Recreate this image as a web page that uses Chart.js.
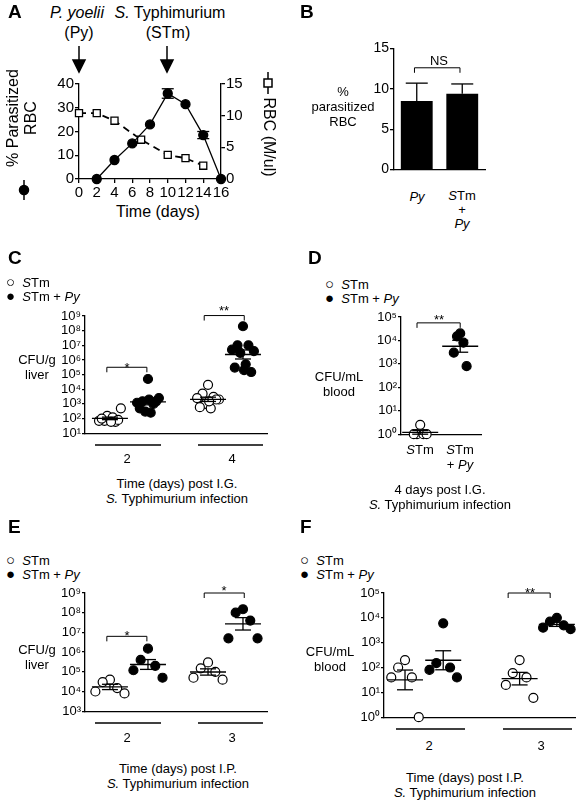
<!DOCTYPE html>
<html><head><meta charset="utf-8">
<script src="https://cdn.jsdelivr.net/npm/chart.js@4"></script>
<style>
body{margin:0;width:580px;height:800px;position:relative;background:#fff;font-family:"Liberation Sans",Arial,sans-serif;color:#000;overflow:hidden}
canvas{position:absolute}
.t{position:absolute;white-space:nowrap;font-size:13px;line-height:15px}
.c{transform:translateX(-50%);text-align:center}
.L{font-size:19px;font-weight:bold}
.big{font-size:16px;line-height:18px}
svg{position:absolute;left:0;top:0}
</style></head><body>
<script>
// ---------- DATA ----------
const aDays = [2,4,6,8,10,12,14,16];
const aParasit = [0,8,15,23,36,31.5,18.5,0];
const aParasitErr = [0,0,0,0,2,0,1.5,0];
const aRbcDays = [0,2,4,7,10,12,14];
const aRbc = [10.4,10.4,9.2,6.2,3.8,3.3,2.1];
const bCats = ['Py','STm + Py'];
const bVals = [8.5,9.4];
const bErr = [2.2,1.2];
const cStm2 = [100,70,60,70,500,150,120,100,80,60];
const cPy2 = [50000,1500,1000,1200,2500,300,250,500,1500,2000];
const cStm4 = [20000,5000,3000,2500,2000,1000,500,600,2000,1500];
const cPy4 = [2e8,1e7,1e7,5e6,4e6,3e6,5e5,3e5,1.5e5,2e5];
const dStm = [2.5,1,1,1,1];
const dPy = [2e4,1.5e4,8000,3000,800];
const eStm2 = [40000,30000,15000,10000,8000];
const ePy2 = [1.5e6,4e5,2e5,1.2e5,5e4];
const eStm3 = [3e5,1.5e5,1e5,5e4,4e4];
const ePy3 = [1.5e8,1e8,4e7,5e6,5e6];
const fStm2 = [200,100,40,40,1];
const fPy2 = [6000,150,100,80,40];
const fStm3 = [200,60,40,20,6];
const fPy3 = [1e4,7000,5000,4000,3500];

const FONT = {family:'"Liberation Sans",Arial,sans-serif', size:13};
Chart.defaults.font = FONT; Chart.defaults.color = '#000';
const sup = n => '10' + String(n).split('').map(d=>'⁰¹²³⁴⁵⁶⁷⁸⁹'[+d]).join('');

function mkCanvas(l,t,w,h){const c=document.createElement('canvas');c.style.left=l+'px';c.style.top=t+'px';c.style.width=w+'px';c.style.height=h+'px';c.width=w;c.height=h;document.body.appendChild(c);return c;}
function txt(x,y,html,cls){const d=document.createElement('div');d.className='t '+(cls||'');d.style.left=x+'px';d.style.top=y+'px';d.innerHTML=html;document.body.appendChild(d);return d;}

const extras = {id:'extras', afterDatasetsDraw(ch, a, o){
  const ctx=ch.ctx; ctx.save(); ctx.strokeStyle='#000'; ctx.lineWidth=1.3;
  const ln=(x1,y1,x2,y2)=>{ctx.beginPath();ctx.moveTo(x1,y1);ctx.lineTo(x2,y2);ctx.stroke();};
  (o.err||[]).forEach(e=>{const ys=ch.scales[e.axis||'y'],xs=ch.scales.x;const x=xs.getPixelForValue(e.x);
    const lo=ys.getPixelForValue(e.lo),hi=ys.getPixelForValue(e.hi);ln(x,lo,x,hi);ln(x-e.cap,hi,x+e.cap,hi);if(e.both)ln(x-e.cap,lo,x+e.cap,lo);
    if(e.mid!==undefined){const m=ys.getPixelForValue(e.mid);ln(x-e.mw,m,x+e.mw,m);}});
  (o.br||[]).forEach(b=>{const ys=ch.scales.y,xs=ch.scales.x;const x1=xs.getPixelForValue(b.x1),x2=xs.getPixelForValue(b.x2),y=ys.getPixelForValue(b.y);
    ctx.lineWidth=1;ctx.beginPath();ctx.moveTo(x1,y+5);ctx.lineTo(x1,y);ctx.lineTo(x2,y);ctx.lineTo(x2,y+5);ctx.stroke();});
  ctx.restore();}};
Chart.register(extras);

// ---------- Panel A ----------
(function(){
  const l=79,t=80,r=221,b=179, wl=26, wr=26, hx=22, pt=6;
  const c=mkCanvas(l-wl,t-pt,(r-l)+wl+wr,(b-t)+pt+hx);
  const tk={drawOnChartArea:false,tickLength:4,color:'#000',lineWidth:1.3};
  new Chart(c,{type:'scatter',data:{datasets:[
    {data:aDays.map((d,i)=>({x:d,y:aParasit[i]})),showLine:true,borderColor:'#000',backgroundColor:'#000',borderWidth:1.3,pointRadius:4.5,clip:false,yAxisID:'y'},
    {data:aRbcDays.map((d,i)=>({x:d,y:aRbc[i]})),showLine:true,borderDash:[7,5],borderColor:'#000',borderWidth:1.8,backgroundColor:'#fff',pointStyle:'rect',pointRadius:5,pointBorderWidth:1.3,clip:false,yAxisID:'y2'}]},
  options:{animation:false,responsive:false,layout:{padding:{top:pt,left:0,right:0,bottom:0}},plugins:{legend:{display:false},tooltip:{enabled:false},
    extras:{err:aDays.map((d,i)=>({x:d,lo:aParasit[i]-aParasitErr[i],hi:aParasit[i]+aParasitErr[i],cap:6,both:true})).filter((e,i)=>aParasitErr[i]>0)}},
    scales:{x:{type:'linear',min:0,max:16,ticks:{stepSize:2,autoSkip:false,maxRotation:0,padding:1,font:{size:15}},grid:tk,border:{color:'#000',width:1.3},afterFit:s=>{s.height=hx}},
      y:{position:'left',min:0,max:40,ticks:{stepSize:10,padding:1,font:{size:15}},grid:tk,border:{color:'#000',width:1.3},afterFit:s=>{s.width=wl}},
      y2:{position:'right',min:0,max:15,ticks:{stepSize:5,padding:1,font:{size:15}},grid:tk,border:{color:'#000',width:1.3},afterFit:s=>{s.width=wr}}}}});
})();
txt(77,4,'<i>P. yoelii</i>','c big');txt(79,24,'(Py)','c big');
txt(170,4,'<i>S.</i> Typhimurium','c big');txt(168,24,'(STm)','c big');
txt(158,203,'Time (days)','c big');
txt(22,118,'<div style="transform:rotate(-90deg);text-align:center">% Parasitized<br>RBC</div>','c big').style.transform='translate(-50%,-50%)';
txt(269,137,'<div style="transform:rotate(90deg)">RBC (M/ul)</div>','c big').style.transform='translate(-50%,-50%)';

// ---------- Panel B ----------
(function(){
  const l=394,t=43,r=485,b=178,wl=26,pt=4;
  const c=mkCanvas(l-wl,t-pt,(r-l)+wl+4,(b-t)+pt+1);
  const tk={drawOnChartArea:false,tickLength:4,color:'#000',lineWidth:1.3};
  new Chart(c,{type:'bar',data:{labels:bCats,datasets:[{data:bVals,backgroundColor:'#000',barPercentage:0.7,categoryPercentage:1}]},
   options:{animation:false,responsive:false,layout:{padding:{top:pt,right:4,bottom:0}},plugins:{legend:{display:false},tooltip:{enabled:false},
    extras:{err:bVals.map((v,i)=>({x:i,lo:v,hi:v+bErr[i],cap:11})),br:[{x1:-0.05,x2:0.95,y:12.6}]}},
    scales:{x:{ticks:{display:false},grid:{display:false},border:{color:'#000',width:1.3},afterFit:s=>{s.height=1}},
     y:{min:0,max:15,ticks:{stepSize:5,padding:1,font:{size:14}},grid:tk,border:{color:'#000',width:1.3},afterFit:s=>{s.width=wl}}}}});
})();
txt(417,189,'<i>Py</i>','c');txt(462,189,'<i>S</i>Tm<br>+<br><i>Py</i>','c').style.lineHeight='14px';
txt(439,53,'NS','c');
txt(343,84,'%<br>parasitized<br>RBC','c');

// ---------- dot panels ----------
function gstats(v){const L=v.map(Math.log10);const m=L.reduce((a,b)=>a+b,0)/L.length;const sd=Math.sqrt(L.reduce((a,b)=>a+(b-m)**2,0)/(L.length-1));const se=sd/Math.sqrt(L.length);return [10**m,10**(m-se),10**(m+se)];}
const JIT=[0,-1,1,-2,2,-0.5,0.5,-1.5,1.5,0.2];
function dotPanel(A,e0,e1,groups,brs,sp){
  const wl=38,pt=10,pr=6;
  const c=mkCanvas(A.l-wl,A.t-pt,(A.r-A.l)+wl+pr,(A.b-A.t)+pt+6);
  const err=[];
  const ds=groups.map(g=>{const [m,lo,hi]=gstats(g.v);err.push({x:g.x,lo,hi,mid:m,cap:8,both:true,mw:18});
    return {data:g.v.map((v,i)=>({x:g.x+JIT[i]*sp,y:v})),pointRadius:4.5,pointBorderWidth:1.2,borderColor:'#000',backgroundColor:g.f?'#000':'#fff',clip:false};});
  new Chart(c,{type:'scatter',data:{datasets:ds},options:{animation:false,responsive:false,layout:{padding:{top:pt,right:pr,bottom:6}},
    plugins:{legend:{display:false},tooltip:{enabled:false},extras:{err,br:brs}},
    scales:{x:{type:'linear',min:0,max:10,ticks:{display:false},grid:{display:false},border:{color:'#000',width:1.3},afterFit:s=>{s.height=0}},
     y:{type:'logarithmic',min:10**e0,max:10**e1,afterBuildTicks:s=>{const a=[];for(let e=e0;e<=e1;e++)a.push({value:10**e});s.ticks=a;},
      ticks:{autoSkip:false,callback:v=>sup(Math.round(Math.log10(v))),padding:1,font:{size:13}},grid:{drawOnChartArea:false,tickLength:3,color:'#000',lineWidth:1.3},border:{color:'#000',width:1.3},afterFit:s=>{s.width=wl}}}}});
}
function legend(x,y){txt(x,y,'<span style="font-size:15px">○</span>&nbsp;&nbsp;<i>S</i>Tm');txt(x,y+14,'<span style="font-size:15px">●</span>&nbsp;&nbsp;<i>S</i>Tm + <i>Py</i>');}

// C
dotPanel({l:85,t:316,r:267,b:436},1,9,[{x:1.37,v:cStm2},{x:3.46,v:cPy2,f:1},{x:6.76,v:cStm4},{x:8.68,v:cPy4,f:1}],
  [{x1:1.2,x2:3.4,y:10**5.5},{x1:6.55,x2:8.75,y:10**9.03}],0.3);
legend(6,274);
txt(37,352,'CFU/g<br>liver','c');
txt(127,360,'*','c');txt(224,303,'**','c');
txt(127,451,'2','c');txt(232,451,'4','c');
txt(177,476,'Time (days) post I.G.<br><i>S.</i> Typhimurium infection','c');
// D
dotPanel({l:401,t:317,r:481,b:437},0,5,[{x:2.4,v:dStm},{x:7.4,v:dPy,f:1}],[{x1:2,x2:7.4,y:10**4.75}],0.4);
legend(325,276);
txt(339,369,'CFU/mL<br>blood','c');
txt(439,312,'**','c');
txt(420,442,'<i>S</i>Tm','c');txt(460,442,'<i>S</i>Tm<br>+ <i>Py</i>','c');
txt(440,482,'4 days post I.G.<br><i>S.</i> Typhimurium infection','c');
// E
dotPanel({l:85,t:593,r:267,b:714},3,9,[{x:1.37,v:eStm2},{x:3.46,v:ePy2,f:1},{x:6.76,v:eStm3},{x:8.68,v:ePy3,f:1}],
  [{x1:1.2,x2:3.4,y:10**6.8},{x1:6.55,x2:8.75,y:10**9}],0.4);
legend(6,552);
txt(37,642,'CFU/g<br>liver','c');
txt(127,628,'*','c');txt(224,583,'*','c');
txt(127,730,'2','c');txt(232,730,'3','c');
txt(178,761,'Time (days) post I.P.<br><i>S.</i> Typhimurium infection','c');
// F
dotPanel({l:384,t:593,r:575,b:720},0,5,[{x:1.1,v:fStm2},{x:3.1,v:fPy2,f:1},{x:7.1,v:fStm3},{x:9.05,v:fPy3,f:1}],
  [{x1:6.5,x2:8.7,y:10**5}],0.36);
legend(300,552);
txt(330,644,'CFU/mL<br>blood','c');
txt(530,585,'**','c');
txt(429,738,'2','c');txt(541,738,'3','c');
txt(465,770,'Time (days) post I.P.<br><i>S.</i> Typhimurium infection','c');

// panel letters
[['A',8,4],['B',300,4],['C',8,250],['D',308,250],['E',8,519],['F',300,519]].forEach(p=>txt(p[1],p[2],p[0],'L'));
</script>
<svg width="580" height="800">
<g stroke="#000" stroke-width="1.5" fill="#000">
<line x1="79" y1="46" x2="79" y2="62"/><polygon points="73,60 85,60 79,72"/>
<line x1="167" y1="46" x2="167" y2="62"/><polygon points="161,60 173,60 167,72"/>
<line x1="24" y1="180" x2="24" y2="200"/><circle cx="24" cy="190" r="4.5"/>
<line x1="268" y1="72" x2="268" y2="94"/><rect x="264" y="79" width="8" height="8" fill="#fff"/>
<line x1="95" y1="445" x2="161" y2="445"/><line x1="198" y1="445" x2="263" y2="445"/>
<line x1="95" y1="723" x2="161" y2="723"/><line x1="198" y1="723" x2="263" y2="723"/>
<line x1="396" y1="729" x2="465" y2="729"/><line x1="503" y1="729" x2="572" y2="729"/>
</g></svg>
</body></html>
